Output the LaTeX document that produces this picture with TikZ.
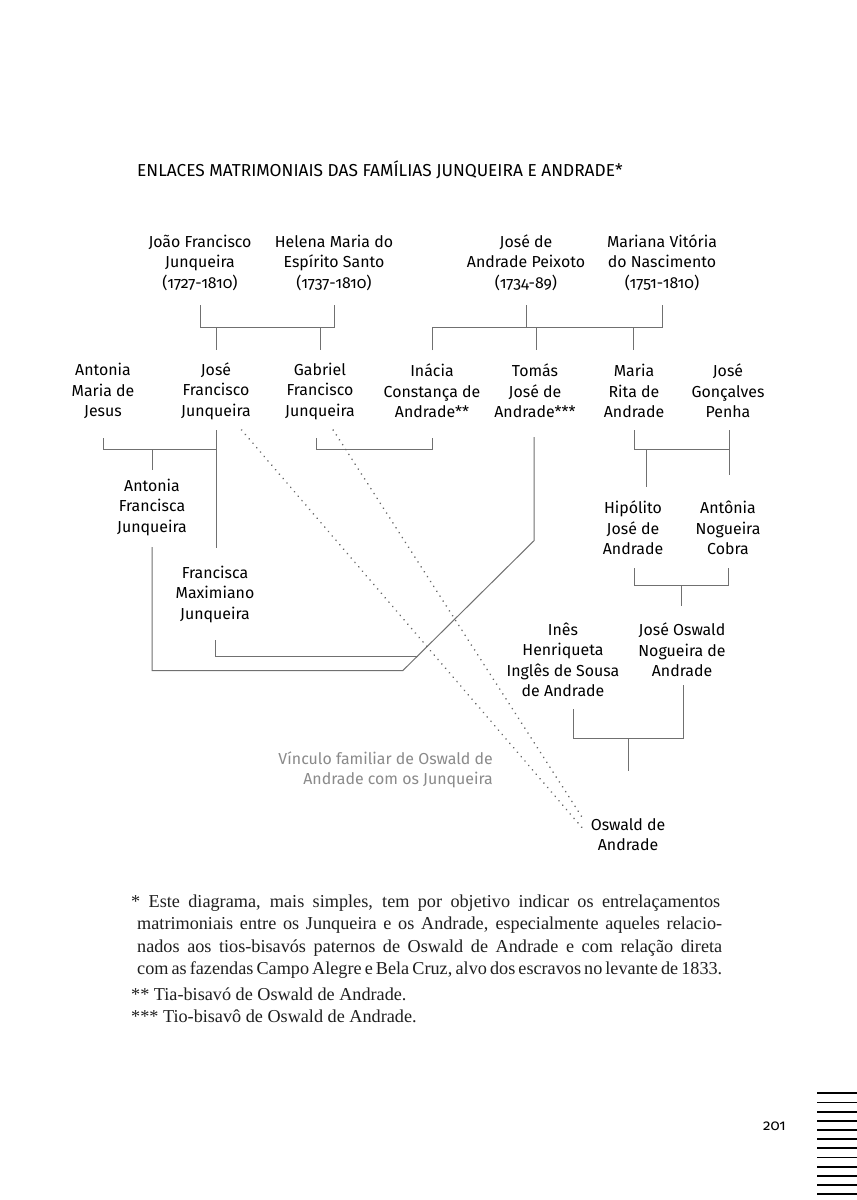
\documentclass[tikz,border=0pt]{standalone}
\usepackage{fontspec}
\newfontfamily\dsans{Fira Sans}[Numbers=OldStyle]
\newfontfamily\tsans{Fira Sans}[Numbers=OldStyle]
\newfontfamily\nserif{Liberation Serif}
\definecolor{conn}{HTML}{707070}
\definecolor{dotc}{HTML}{666666}
\definecolor{lgray}{HTML}{8A8A8A}
\begin{document}
\begin{tikzpicture}[x=1pt,y=-1pt,
  person/.style={align=center, font=\dsans\fontsize{15.9}{20.5}\selectfont, inner sep=0pt, text=black},
  link/.style={draw=conn, line width=1pt},
  kin/.style={draw=dotc, line width=1.8pt, line cap=round, dash pattern=on 0.01pt off 5.8pt},
  note/.style={anchor=base west, inner sep=0pt, font=\nserif\fontsize{18.2}{22.5}\selectfont, text=black!88},
  bar/.style={draw=black, line width=1.8pt}]
\useasboundingbox (0,0) rectangle (857,1200);
\fill[white] (0,0) rectangle (857,1200);

% title
\node[anchor=base west, inner sep=0pt, font=\tsans\fontsize{17.3}{20}\selectfont] (title) at (137,176)
  {ENLACES MATRIMONIAIS DAS FAMÍLIAS JUNQUEIRA E ANDRADE*};

% generation 1
\node[person] (joao) at (200,262.5) {João Francisco\\Junqueira\\(1727-1810)};
\node[person] (helena) at (334,262.5) {Helena Maria do\\Espírito Santo\\(1737-1810)};
\node[person] (jap) at (526,262.5) {José de\\Andrade Peixoto\\(1734-89)};
\node[person] (mvn) at (662,262.5) {Mariana Vitória\\do Nascimento\\(1751-1810)};

% generation 2
\node[person] (amj) at (103,391) {Antonia\\Maria de\\Jesus};
\node[person] (jfj) at (216,391) {José\\Francisco\\Junqueira};
\node[person] (gfj) at (320,391) {Gabriel\\Francisco\\Junqueira};
\node[person] (ica) at (432,391) {Inácia\\Constança de\\Andrade**};
\node[person] (tja) at (535,391) {Tomás\\José de\\Andrade***};
\node[person] (mra) at (634,391) {Maria\\Rita de\\Andrade};
\node[person] (jgp) at (728,391) {José\\Gonçalves\\Penha};

% generation 3
\node[person] (afj) at (152,507) {Antonia\\Francisca\\Junqueira};
\node[person] (fmj) at (215,594) {Francisca\\Maximiano\\Junqueira};
\node[person] (hja) at (633,528) {Hipólito\\José de\\Andrade};
\node[person] (anc) at (728,528) {Antônia\\Nogueira\\Cobra};

% generation 4
\node[person] (ihs) at (563,660) {Inês\\Henriqueta\\Inglês de Sousa\\de Andrade};
\node[person] (jon) at (682,650) {José Oswald\\Nogueira de\\Andrade};

% Oswald
\node[person, anchor=north] (oa) at (628,818) {Oswald de\\Andrade};

\node[person, align=right, anchor=east, text=lgray] (vinc) at (493,770)
  {Vínculo familiar de Oswald de\\Andrade com os Junqueira};

% connectors generation 1
\draw[link] (joao |- 0,305) -- (joao |- 0,327) -- (helena |- 0,327) -- (helena |- 0,305);
\draw[link] (jfj |- 0,327) -- (jfj |- 0,350);
\draw[link] (gfj |- 0,327) -- (gfj |- 0,350);
\draw[link] (jap |- 0,305) -- (jap |- 0,327);
\draw[link] (ica |- 0,350) -- (ica |- 0,327) -- (mvn |- 0,327) -- (mvn |- 0,305);
\draw[link] (536,327) -- (536,350);
\draw[link] (633,327) -- (633,350);

% connectors generation 2
\draw[link] (amj |- 0,438) -- (amj |- 0,449) -- (216,449);
\draw[link] (jfj |- 0,430) -- (jfj |- 0,548);
\draw[link] (afj |- 0,449) -- (afj |- 0,470);
\draw[link] (316,438) -- (316,449) -- (ica |- 0,449) -- (ica |- 0,438);
\draw[link] (mra |- 0,430) -- (mra |- 0,449) -- (729,449);
\draw[link] (729,430) -- (729,475);
\draw[link] (646,449) -- (646,487);

% Tomás line
\coordinate (tbend) at (534,540.7);
\coordinate (tcorner) at (402.7,670.7);
\draw[link] (534,437) -- (tbend) -- (tcorner) -- (afj |- 0,670.7) -- (afj |- 0,547);
\draw[link] (fmj |- 0,640) -- (fmj |- 0,656) -- (417.5,656);

% generation 3 connectors
\draw[link] (634,568) -- (634,585) -- (anc |- 0,585) -- (anc |- 0,568);
\draw[link] (681,585) -- (681,606);

% generation 4 connectors
\draw[link] (573,709) -- (573,738) -- (683,738) -- (683,685);
\draw[link] (oa |- 0,738) -- (oa |- 0,771);

% dotted kinship lines
\draw[kin] (241.6,430) -- (581.7,827.3);
\draw[kin] (333.2,430) -- (581.7,816.6);

% footnote
\node[note] (n1) at (131,907) {\makebox[589pt][s]{* Este diagrama, mais simples, tem por objetivo indicar os entrelaçamentos}};
\node[note] (n2) at (137,929.5) {\makebox[585pt][s]{matrimoniais entre os Junqueira e os Andrade, especialmente aqueles relacio-}};
\node[note] (n3) at (137,952) {\makebox[585pt][s]{nados aos tios-bisavós paternos de Oswald de Andrade e com relação direta}};
\node[note] (n4) at (137,974.5) {\makebox[585pt][s]{com as fazendas Campo Alegre e Bela Cruz, alvo dos escravos no levante de 1833.}};
\node[note] (n5) at (131,1000) {** Tia-bisavó de Oswald de Andrade.};
\node[note] (n6) at (131,1022.5) {*** Tio-bisavô de Oswald de Andrade.};

% page number and bars
\node[anchor=base west, inner sep=0pt, font=\dsans\fontsize{15}{18}\selectfont] (pg) at (763,1130) {201};
\foreach \i in {0,...,11} {
  \draw[bar] (817,{1093.3+9.17*\i}) -- (857,{1093.3+9.17*\i});
}
\end{tikzpicture}
\end{document}
